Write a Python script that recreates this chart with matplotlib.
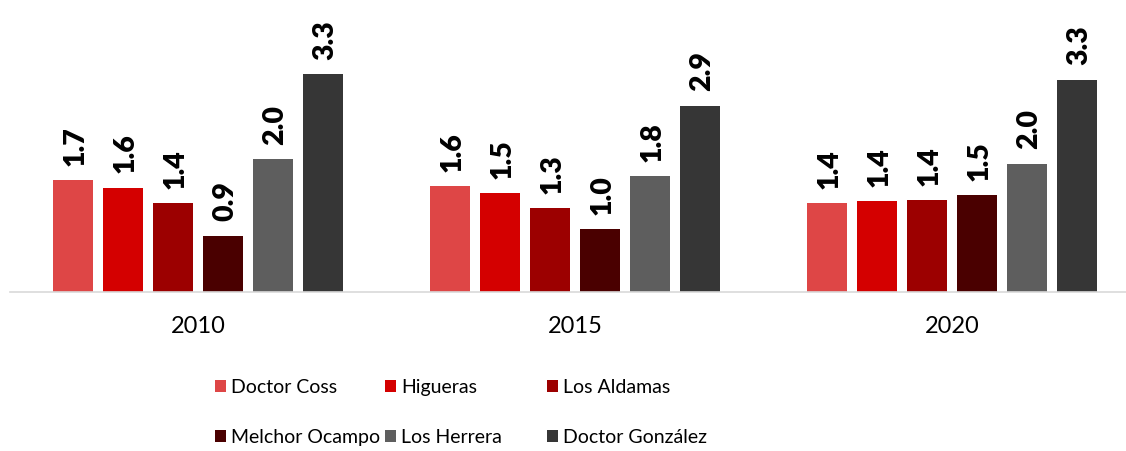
import matplotlib.pyplot as plt
import numpy as np

years = ['2010', '2015', '2020']
municipios = ['Doctor Coss', 'Higueras', 'Los Aldamas',
              'Melchor Ocampo', 'Los Herrera', 'Doctor González']

doctor_coss = [1.72, 1.62, 1.36]
higueras = [1.60, 1.51, 1.39]
los_aldamas = [1.36, 1.29, 1.41]
melchor_ocampo = [0.86, 0.96, 1.48]
los_herrera = [2.04, 1.78, 1.97]
doctor_gonzalez = [3.34, 2.86, 3.26]

series = [doctor_coss, higueras, los_aldamas, melchor_ocampo, los_herrera, doctor_gonzalez]
colors = ['#DE4646', '#D40000', '#9C0000', '#4A0000', '#5E5E5E', '#363636']

fonts = ['Lato', 'DejaVu Sans']

W, H = 1126, 452
fig = plt.figure(figsize=(W / 100, H / 100), dpi=100)

# axes placed in pixels: baseline at y=292.7, groups 377 px apart
ax = fig.add_axes([9.5 / W, (H - 292.7) / H, 1131 / W, 4.4 * 65.05 / H])

x = np.arange(len(years))
pitch = 50 / 377
width = 40 / 377
bars = []
for i, (vals, col) in enumerate(zip(series, colors)):
    b = ax.bar(x + (i - 2.5) * pitch, vals, width, color=col, label=municipios[i])
    bars.append(b)
    for rect, v in zip(b, vals):
        ax.annotate('{:.1f}'.format(v),
                    (rect.get_x() + rect.get_width() / 2, rect.get_height()),
                    xytext=(1.5, 11), textcoords='offset points',
                    rotation=90, ha='center', va='bottom',
                    fontsize=20.5, fontweight='heavy', family=fonts)

ax.set_xlim(-0.5, 2.5)
ax.set_ylim(0, 4.4)
ax.set_xticks(x)
ax.set_xticklabels(years, family=fonts, fontsize=17)
ax.tick_params(axis='x', length=0, pad=17)
ax.set_yticks([])
for s in ['top', 'right', 'left']:
    ax.spines[s].set_visible(False)
ax.spines['bottom'].set_color('#D9D9D9')
ax.spines['bottom'].set_linewidth(1.2)

# legend, one entry per slot (columns are not evenly spaced in the original)
col_x = [215, 385, 547]
row_y = [388, 438]
for k, name in enumerate(municipios):
    r, c = divmod(k, 3)
    fig.legend(handles=[bars[k]], labels=[name], loc='center left',
               bbox_to_anchor=(col_x[c] / W, (H - row_y[r]) / H),
               frameon=False, borderpad=0, borderaxespad=0,
               handlelength=0.57, handleheight=0.57, handletextpad=0.25,
               prop={'family': fonts, 'size': 14})

fig.savefig('out.png', dpi=100)
